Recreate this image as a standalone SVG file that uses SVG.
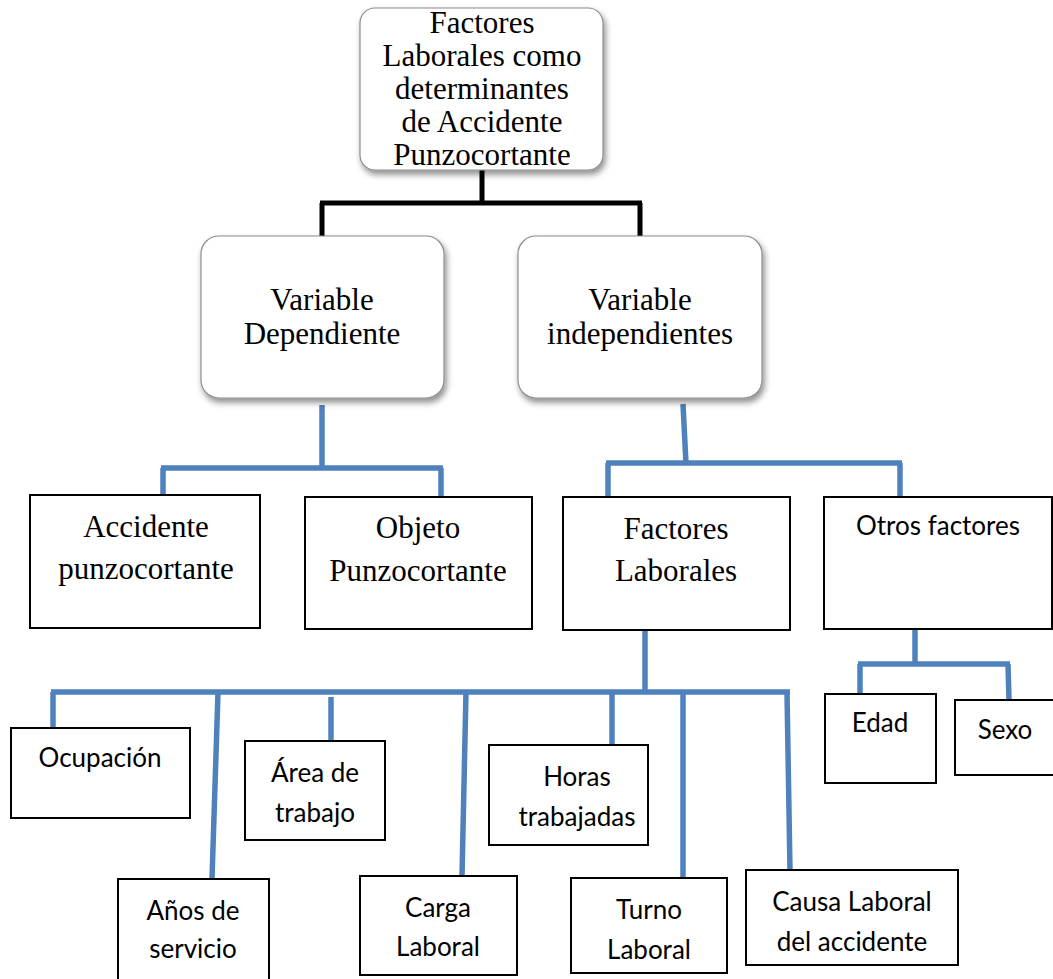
<svg xmlns="http://www.w3.org/2000/svg" width="1053" height="979" viewBox="0 0 1053 979">
<defs>
<filter id="sh" x="-10%" y="-10%" width="125%" height="130%">
<feDropShadow dx="2" dy="4" stdDeviation="3" flood-color="#000" flood-opacity="0.45"/>
</filter>
</defs>
<style>
.rb{fill:#fff;stroke:#8c8c8c;stroke-width:1.2}
.bx{fill:#fff;stroke:#000;stroke-width:2}
.serif{font-family:"Liberation Serif","Times New Roman",serif;font-size:31px;fill:#000;text-anchor:middle}
.sans{font-family:Lato,"Liberation Sans",sans-serif;font-size:26px;fill:#000;text-anchor:middle}
.blk{fill:none;stroke:#000;stroke-width:5}
.blu{fill:none;stroke:#4F81BD;stroke-width:5.5}
</style>
<rect width="1053" height="979" fill="#fff"/>
<g id="connectors">
<path class="blk" d="M482,170 V203 M320,203 H642 M322,203 V236 M640,203 V236"/>
<path class="blu" d="M322,405 V468 M161,468 H443 M163,468 V497 M441,468 V497"/>
<path class="blu" d="M683,404 L686,464 M606,463 H902 M608,463 V498 M900,463 V496"/>
<path class="blu" d="M645,630 V692 M51,692 H790 M53,692 V736 M218,692 L212,879 M331,697 V741 M466,692 L462,876 M612,692 V746 M683,692 V878 M787,692 L790,871"/>
<path class="blu" d="M915,629 V664 M858,664 H1010 M860,664 V696 M1008,664 L1009,700"/>
</g>
<g id="n-root">
<rect class="rb" x="360" y="8" width="243" height="162" rx="15" filter="url(#sh)"/>
<text class="serif" x="482" y="33">Factores</text>
<text class="serif" x="482" y="66">Laborales como</text>
<text class="serif" x="482" y="99">determinantes</text>
<text class="serif" x="482" y="132">de Accidente</text>
<text class="serif" x="482" y="165">Punzocortante</text>
</g>
<g id="n-vardep">
<rect class="rb" x="201" y="236" width="243" height="162" rx="18" filter="url(#sh)"/>
<text class="serif" x="322" y="310">Variable</text>
<text class="serif" x="322" y="344">Dependiente</text>
</g>
<g id="n-varind">
<rect class="rb" x="518" y="236" width="244" height="162" rx="18" filter="url(#sh)"/>
<text class="serif" x="640" y="310">Variable</text>
<text class="serif" x="640" y="344">independientes</text>
</g>
<g id="n-accidente">
<rect class="bx" x="30" y="495" width="230" height="133"/>
<text class="serif" x="146" y="537">Accidente</text>
<text class="serif" x="146" y="579">punzocortante</text>
</g>
<g id="n-objeto">
<rect class="bx" x="305" y="497" width="227" height="132"/>
<text class="serif" x="418" y="538">Objeto</text>
<text class="serif" x="418" y="581">Punzocortante</text>
</g>
<g id="n-factores">
<rect class="bx" x="563" y="497" width="227" height="133"/>
<text class="serif" x="676" y="539">Factores</text>
<text class="serif" x="676" y="581">Laborales</text>
</g>
<g id="n-otros">
<rect class="bx" x="824" y="497" width="228" height="132"/>
<text class="sans" x="938" y="535">Otros factores</text>
</g>
<g id="n-ocupacion">
<rect class="bx" x="11" y="728" width="179" height="90"/>
<text class="sans" x="100" y="767">Ocupación</text>
</g>
<g id="n-area">
<rect class="bx" x="245" y="741" width="140" height="99"/>
<text class="sans" x="315" y="782">Área de</text>
<text class="sans" x="315" y="822">trabajo</text>
</g>
<g id="n-horas">
<rect class="bx" x="489" y="745" width="159" height="100"/>
<text class="sans" x="577" y="786">Horas</text>
<text class="sans" x="577" y="826">trabajadas</text>
</g>
<g id="n-anos">
<rect class="bx" x="118" y="879" width="151" height="102"/>
<text class="sans" x="193" y="920">Años de</text>
<text class="sans" x="193" y="958">servicio</text>
</g>
<g id="n-carga">
<rect class="bx" x="360" y="876" width="157" height="99"/>
<text class="sans" x="438" y="917">Carga</text>
<text class="sans" x="438" y="956">Laboral</text>
</g>
<g id="n-turno">
<rect class="bx" x="571" y="878" width="156" height="95"/>
<text class="sans" x="649" y="919">Turno</text>
<text class="sans" x="649" y="959">Laboral</text>
</g>
<g id="n-causa">
<rect class="bx" x="746" y="870" width="212" height="95"/>
<text class="sans" x="852" y="911">Causa Laboral</text>
<text class="sans" x="852" y="951">del accidente</text>
</g>
<g id="n-edad">
<rect class="bx" x="825" y="694" width="111" height="89"/>
<text class="sans" x="880" y="732">Edad</text>
</g>
<g id="n-sexo">
<rect class="bx" x="955" y="700" width="100" height="75"/>
<text class="sans" x="1005" y="739">Sexo</text>
</g>
</svg>
